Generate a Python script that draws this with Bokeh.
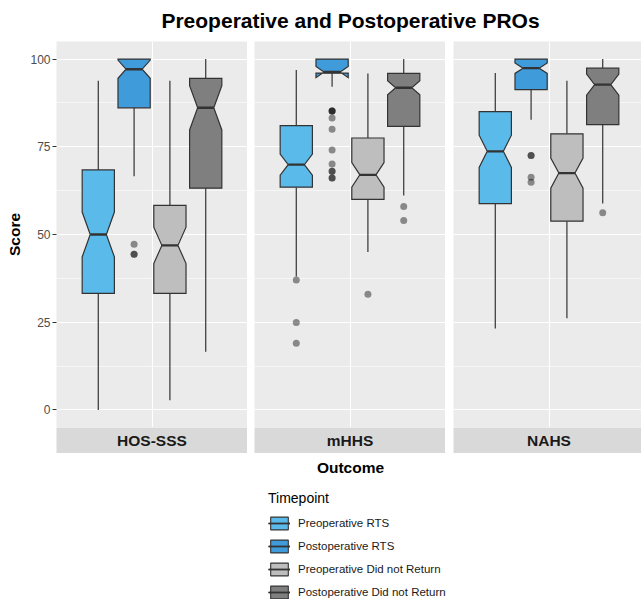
import numpy as np
from bokeh.plotting import figure
from bokeh.models import (Range1d, FixedTicker, ColumnDataSource, Legend, LegendItem,
                          Grid, Label)
from bokeh.layouts import column, row
from bokeh.embed import file_html
from bokeh.resources import INLINE
from bokeh.core.properties import value
from bokeh.core.validation import silence
from bokeh.core.validation.warnings import MISSING_RENDERERS

silence(MISSING_RENDERERS, True)

# ---------------- data ----------------
outcomes = ["HOS-SSS", "mHHS", "NAHS"]
timepoints = ["Preoperative RTS", "Postoperative RTS",
              "Preoperative Did not Return", "Postoperative Did not Return"]
fill_colors = ["#5ABAE9", "#3F9BDA", "#BEBEBE", "#7F7F7F"]

# one value per box: outcome by outcome, timepoints in the order above
whisker_low  = [0.0, 66.6, 2.8, 16.6,     38.0, 92.1, 45.0, 61.1,     23.2, 82.7, 26.1, 58.8]
q1           = [33.2, 86.1, 33.2, 63.2,   63.5, 96.0, 60.0, 80.8,     58.8, 91.3, 53.8, 81.3]
median       = [50.0, 97.1, 46.9, 86.1,   69.9, 96.3, 67.0, 91.8,     73.7, 97.4, 67.5, 92.7]
q3           = [68.4, 100.0, 58.3, 94.5,  81.0, 100.0, 77.5, 95.9,    85.0, 100.0, 78.7, 97.4]
whisker_high = [93.8, 100.0, 93.8, 100.0, 96.9, 100.0, 95.9, 100.0,   96.0, 100.0, 93.8, 100.0]
notch_low    = [43.6, 94.5, 41.7, 79.8,   66.9, 94.7, 63.5, 89.8,     69.1, 95.9, 63.2, 89.7]
notch_high   = [56.4, 99.7, 52.1, 92.4,   72.9, 97.9, 70.5, 93.8,     78.3, 98.9, 71.8, 95.7]

outlier_outcome = ["HOS-SSS", "HOS-SSS", "HOS-SSS",
                   "mHHS", "mHHS", "mHHS",
                   "mHHS", "mHHS", "mHHS", "mHHS", "mHHS", "mHHS", "mHHS",
                   "mHHS", "mHHS", "mHHS", "mHHS",
                   "mHHS",
                   "mHHS", "mHHS",
                   "NAHS", "NAHS", "NAHS", "NAHS",
                   "NAHS"]
outlier_timepoint = [1, 1, 1,
                     0, 0, 0,
                     1, 1, 1, 1, 1, 1, 1, 1, 1, 1, 1,
                     2,
                     3, 3,
                     1, 1, 1, 1,
                     3]
outlier_value = [47.2, 44.4, 44.4,
                 37.0, 24.9, 19.0,
                 85.2, 85.2, 85.2, 83.2, 80.0, 74.1, 70.1, 68.0, 68.0, 66.1, 66.1,
                 33.0,
                 58.0, 54.0,
                 72.5, 72.5, 66.3, 64.9,
                 56.2]

y_ticks = [0, 25, 50, 75, 100]
y_minor = [12.5, 37.5, 62.5, 87.5]

# ---------------- geometry (ggplot-like dodge) ----------------
DODGE = 0.9
SLOT = DODGE / 4
BOX_W = SLOT * 0.9
NOTCH = 0.5

FONT = "Liberation Sans"
LINE = "#333333"
PANEL_BG = "#EBEBEB"
TOP_H = 41
PANEL_H = 386
STRIP_H = 26
BOTTOM_H = 146
LEFTS = [56, 7, 8]
FULL_FRAME = 191                 # full facet panel width
FRAME_W = [191, 191, 188]        # last panel is cut by the page edge
TOTAL_W = sum(LEFTS) + sum(FRAME_W)
PANEL_CENTER = (LEFTS[0] + LEFTS[0] + 3 * FULL_FRAME + LEFTS[1] + LEFTS[2]) / 2

y_range = Range1d(-5, 105)


def box_center(j):
    return 1 - DODGE / 2 + SLOT * (j + 0.5)


def bare(fig):
    fig.center = [r for r in fig.center if not isinstance(r, Grid)]
    return fig


panels, strips = [], []
for k, oc in enumerate(outcomes):
    x_end = 0.4 + 1.2 * FRAME_W[k] / FULL_FRAME
    p = figure(width=LEFTS[k] + FRAME_W[k], height=PANEL_H, x_range=Range1d(0.4, x_end),
               y_range=y_range,
               output_backend="svg", toolbar_location=None, x_axis_location=None,
               y_axis_location="left" if k == 0 else None,
               min_border_left=LEFTS[k], min_border_right=0, min_border_top=0, min_border_bottom=0,
               background_fill_color=PANEL_BG, border_fill_color="white", outline_line_color=None)
    bare(p)
    gx = Grid(dimension=0, ticker=FixedTicker(ticks=[1]), grid_line_color="white", grid_line_width=1.1)
    gy = Grid(dimension=1, ticker=FixedTicker(ticks=y_ticks, minor_ticks=y_minor),
              grid_line_color="white", grid_line_width=1.1,
              minor_grid_line_color="white", minor_grid_line_width=0.55)
    p.add_layout(gx, "center")
    p.add_layout(gy, "center")

    if k == 0:
        ax = p.yaxis[0]
        ax.ticker = FixedTicker(ticks=y_ticks)
        ax.axis_label = "Score"
        ax.axis_label_text_font = FONT
        ax.axis_label_text_font_size = "15.5px"
        ax.axis_label_text_font_style = "bold"
        ax.axis_label_text_color = "black"
        ax.axis_label_standoff = 4
        ax.major_label_text_font = FONT
        ax.major_label_text_font_size = "12px"
        ax.major_label_text_color = "#4D4D4D"
        ax.major_label_standoff = 2
        ax.major_tick_in = 0
        ax.major_tick_out = 4
        ax.major_tick_line_color = LINE
        ax.minor_tick_line_color = None
        ax.axis_line_color = None

    xs, ys, cols = [], [], []
    wx, wy0, wy1 = [], [], []
    mx0, mx1, my = [], [], []
    for j in range(4):
        i = k * 4 + j
        xc = box_center(j)
        xmin, xmax = xc - BOX_W / 2, xc + BOX_W / 2
        ind = (1 - NOTCH) * BOX_W / 2
        xs.append([xmin, xmin, xmin + ind, xmin, xmin, xmax, xmax, xmax - ind, xmax, xmax])
        ys.append([q3[i], notch_high[i], median[i], notch_low[i], q1[i],
                   q1[i], notch_low[i], median[i], notch_high[i], q3[i]])
        cols.append(fill_colors[j])
        wx += [xc, xc]
        wy0 += [q3[i], q1[i]]
        wy1 += [whisker_high[i], whisker_low[i]]
        mx0.append(xmin + ind)
        mx1.append(xmax - ind)
        my.append(median[i])

    ox = [box_center(t) for o, t in zip(outlier_outcome, outlier_timepoint) if o == oc]
    oy = [v for o, v in zip(outlier_outcome, outlier_value) if o == oc]
    p.scatter(x=ox, y=oy, size=7, fill_color="black", fill_alpha=0.42, line_color=None)
    p.segment(x0=wx, y0=wy0, x1=wx, y1=wy1, line_color=LINE, line_width=1.2)
    p.patches(xs=xs, ys=ys, fill_color=cols, line_color=LINE, line_width=1.2, line_join="miter")
    p.segment(x0=mx0, y0=my, x1=mx1, y1=my, line_color=LINE, line_width=2.4)
    panels.append(p)

    s = figure(width=LEFTS[k] + FRAME_W[k], height=STRIP_H, x_range=Range1d(0.4, x_end),
               y_range=Range1d(0, 1),
               output_backend="svg", toolbar_location=None, x_axis_location=None, y_axis_location=None,
               min_border_left=LEFTS[k], min_border_right=0, min_border_top=0, min_border_bottom=0,
               background_fill_color="#D9D9D9", border_fill_color="white", outline_line_color=None)
    bare(s)
    s.text(x=[1], y=[0.5], text=[oc], text_font=value(FONT), text_font_size="15.5px",
           text_font_style="bold", text_color="#1A1A1A", text_align="center", text_baseline="middle")
    strips.append(s)

# ---------------- title ----------------
tfig = bare(figure(width=TOTAL_W, height=TOP_H, x_range=Range1d(0, 1), y_range=Range1d(0, 1),
                   output_backend="svg", toolbar_location=None, x_axis_location=None,
                   y_axis_location=None, min_border=0, outline_line_color=None,
                   background_fill_color="white"))
tfig.add_layout(Label(x=PANEL_CENTER, y=TOP_H - 20, x_units="screen", y_units="screen",
                      text="Preoperative and Postoperative PROs", text_font=FONT,
                      text_font_size="21px", text_font_style="bold", text_color="black",
                      text_align="center", text_baseline="middle"))

# ---------------- x title + legend ----------------
bfig = bare(figure(width=TOTAL_W, height=BOTTOM_H, x_range=Range1d(0, 1), y_range=Range1d(0, 1),
                   output_backend="svg", toolbar_location=None, x_axis_location=None,
                   y_axis_location=None, min_border=0, outline_line_color=None,
                   background_fill_color="white"))
bfig.add_layout(Label(x=PANEL_CENTER, y=BOTTOM_H - 13.7, x_units="screen", y_units="screen",
                      text="Outcome", text_font=FONT, text_font_size="15.5px",
                      text_font_style="bold", text_color="black",
                      text_align="center", text_baseline="middle"))

# legend proxies (no position, so nothing is drawn in the frame; only their styles are used)
items = []
for j, tp in enumerate(timepoints):
    src = ColumnDataSource(dict(x=np.array([np.nan]), top=np.array([q3[j]]),
                                bottom=np.array([q1[j]]), y=np.array([median[j]])))
    r0 = bfig.vspan(x="x", source=src, line_color=LINE, line_width=1.1)
    r1 = bfig.vbar(x="x", top="top", bottom="bottom", width=0.8, source=src,
                   fill_color=fill_colors[j], line_color=LINE, line_width=1.1)
    r2 = bfig.segment(x0="x", y0="y", x1="x", y1="y", source=src,
                      line_color=LINE, line_width=1.8)
    items.append(LegendItem(label=tp, renderers=[r0, r1, r2]))

leg = Legend(items=items, title="Timepoint", location=(268, -1), orientation="vertical",
             glyph_width=22, glyph_height=16, label_height=16, label_width=10, spacing=7,
             padding=0, margin=0, label_standoff=8, title_standoff=9,
             label_text_font=FONT, label_text_font_size="11.5px", label_text_color="#1A1A1A",
             title_text_font=FONT, title_text_font_size="14px", title_text_font_style="normal",
             title_text_color="black",
             border_line_color=None, background_fill_alpha=0)
bfig.add_layout(leg, "center")

layout = column(tfig, row(*panels), row(*strips), bfig)

open("out.html", "w").write(file_html(layout, INLINE))
